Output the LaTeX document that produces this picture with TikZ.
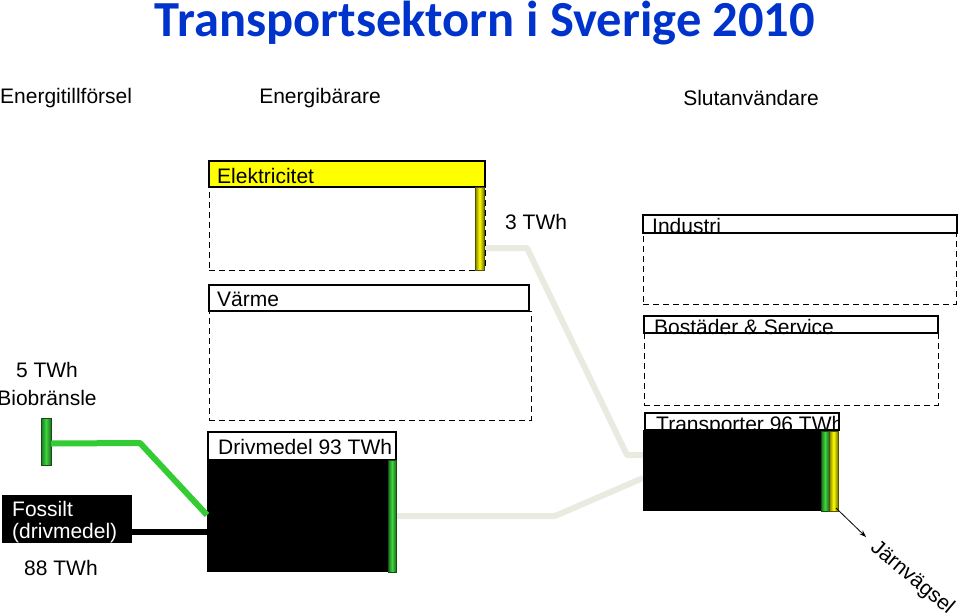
\documentclass[tikz,border=0pt]{standalone}
\usepackage{fontspec}
\setmainfont{Liberation Sans}
\newfontfamily\titlefont{Carlito}
\usetikzlibrary{arrows.meta}
\definecolor{titleblue}{RGB}{0,51,204}
\definecolor{elyellow}{RGB}{255,255,0}
\definecolor{darkolive}{RGB}{120,120,0}
\definecolor{bargreen}{RGB}{60,215,60}
\definecolor{darkgreen}{RGB}{30,110,30}
\definecolor{flowgray}{RGB}{234,234,224}
\definecolor{biogreen}{RGB}{51,204,51}
\begin{document}
\begin{tikzpicture}[x=1pt,y=-1pt,
  lbl/.style={font=\fontsize{21}{25}\selectfont, inner sep=0pt},
  box/.style={anchor=north west, inner sep=0pt, outer sep=0pt},
  hdr/.style={box, draw=black, line width=1.3pt, fill=white},
  dashbox/.style={box, draw=black, line width=1pt, dash pattern=on 6pt off 4pt},
  blackbox/.style={box, fill=black},
  ybar/.style={box, draw=darkolive!70!black, line width=0.6pt, left color=darkolive, right color=darkolive, middle color=elyellow},
  gbar/.style={box, draw=darkgreen!70!black, line width=0.6pt, left color=darkgreen, right color=darkgreen, middle color=bargreen},
  flow/.style={line width=6pt, draw=flowgray, line join=round},
  feed/.style={line width=6pt, line join=round},
]
\useasboundingbox (0,0) rectangle (959,614);

% title and column headings
\node[font=\titlefont\bfseries\fontsize{50.5}{54}\selectfont, text=titleblue, anchor=base, inner sep=0pt] (title) at (485,36) {Transportsektorn i Sverige 2010};
\node[lbl, anchor=base west] (col1) at (0,103) {Energitillförsel};
\node[lbl, anchor=base] (col2) at (320,103) {Energibärare};
\node[lbl, anchor=base] (col3) at (751,105) {Slutanvändare};

% flows (drawn first)
\coordinate (elout) at (485,248);
\coordinate (drout) at (396,516);
\coordinate (trin1) at (643,455);
\coordinate (trin2) at (643,478);
\draw[flow] (elout) -- (527,248) -- (627,455) -- (trin1);
\draw[flow] (drout) -- (555,516) -- (trin2);

% Elektricitet
\node[dashbox, minimum width=276, minimum height=83] (eldash) at (209,187) {};
\node[hdr, fill=elyellow, minimum width=276, minimum height=26] (elhead) at (209,161) {};
\node[lbl, anchor=base west] (eltext) at (217,183) {Elektricitet};
\node[ybar, minimum width=9, minimum height=83] (elbar) at (475,187) {};
\node[lbl, anchor=base west] (el3) at (505,229) {3 TWh};

% Värme
\node[dashbox, minimum width=322, minimum height=109] (vadash) at (209,311) {};
\node[hdr, minimum width=320, minimum height=26] (vahead) at (209,285) {};
\node[lbl, anchor=base west] (vatext) at (217,306) {Värme};

% Drivmedel
\node[hdr, minimum width=188, minimum height=28] (drhead) at (208,432) {};
\node[lbl, anchor=base west] (drtext) at (218,454) {Drivmedel 93 TWh};
\node[blackbox, minimum width=189, minimum height=112] (drbox) at (207,460) {};
\node[gbar, minimum width=8, minimum height=112] (drbar) at (388,460) {};

% Industri
\node[dashbox, minimum width=313, minimum height=71] (indash) at (643,233) {};
\node[hdr, minimum width=314, minimum height=18] (inhead) at (643,215) {};
\node[lbl, anchor=base west] (intext) at (652,233) {Industri};

% Bostäder & Service
\node[dashbox, minimum width=294, minimum height=72] (bodash) at (644,333) {};
\node[hdr, minimum width=294, minimum height=17] (bohead) at (644,316) {};
\node[lbl, anchor=base west] (botext) at (654,334) {Bostäder \& Service};

% Transporter
\node[hdr, minimum width=194, minimum height=17] (trhead) at (645,413) {};
\begin{scope}
\clip (trhead.south west) rectangle (trhead.north east);
\node[lbl, anchor=base west] (trtext) at (656,431) {Transporter 96 TWh};
\end{scope}
\draw[black, line width=1.3pt] (trhead.south west) rectangle (trhead.north east);
\node[blackbox, minimum width=178, minimum height=81] (trbox) at (643,430) {};
\node[gbar, minimum width=8, minimum height=80] (trgbar) at (821,431) {};
\node[ybar, minimum width=9, minimum height=80] (trybar) at (829,431) {};
\coordinate (jarnend) at (866,537);
\draw[-{Stealth[length=7pt,width=5pt]}, line width=0.8pt] (trybar.south east) ++(-2,-3) -- (jarnend);
\node[lbl, rotate=-40] (jarntext) at (912,578) {Järnvägsel};

% Biobränsle
\node[lbl, anchor=base] (biotwh) at (47,377) {5 TWh};
\node[lbl, anchor=base] (biotext) at (47,405) {Biobränsle};
\node[gbar, minimum width=10, minimum height=47] (biobar) at (41,418) {};
\draw[feed, draw=biogreen] (biobar.east) ++(0,2) -- (140,443) -- (drbox.west |- 0,515);

% Fossilt
\node[blackbox, minimum width=130, minimum height=48] (fobox) at (2,495) {};
\node[lbl, anchor=base west, text=white] (fotext1) at (12,516) {Fossilt};
\node[lbl, anchor=base west, text=white] (fotext2) at (12,538) {(drivmedel)};
\draw[feed, draw=black] (fobox.east |- 0,532) -- (drbox.west |- 0,532);
\node[lbl, anchor=base] (fotwh) at (61,575) {88 TWh};
\end{tikzpicture}
\end{document}
